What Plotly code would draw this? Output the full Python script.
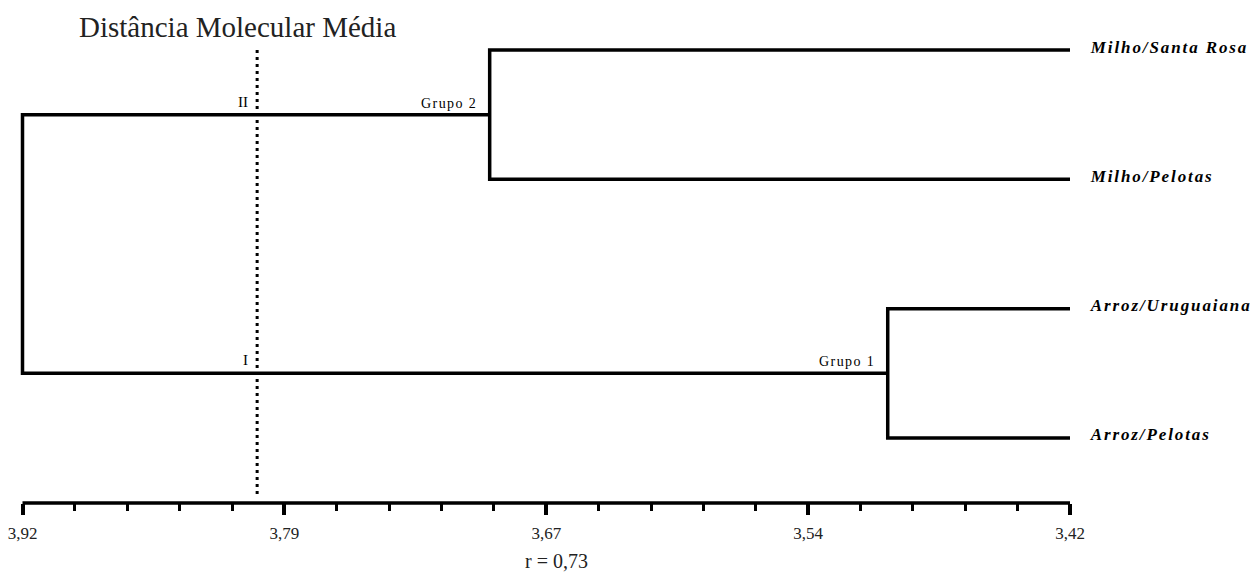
import json
import plotly.graph_objects as go

# ---- data ----
leaves = ["Milho/Santa Rosa", "Milho/Pelotas", "Arroz/Uruguaiana", "Arroz/Pelotas"]
leaf_end = 3.42
group_names = ["Grupo 2", "Grupo 1"]
group_members = [[0, 1], [2, 3]]
group_heights = [3.697, 3.507]
root_height = 3.92
root_labels = ["II", "I"]
cut_value = 3.808
tick_vals = [3.92, 3.795, 3.67, 3.545, 3.42]
tick_text = ["3,92", "3,79", "3,67", "3,54", "3,42"]
minor_vals = [3.92 - 0.025 * k for k in range(21) if k % 5 != 0]
axis_title = "r = 0,73"
title_text = "Distância Molecular Média"

# ---- layout geometry ----
W, H = 1252, 572
px_left, px_right = 22.5, 1070          # pixel positions of 3.92 and 3.42
upp = (tick_vals[0] - tick_vals[-1]) / (px_right - px_left)
x_range = [tick_vals[0] + px_left * upp, tick_vals[-1] - (W - px_right) * upp]
leaf_px0, leaf_step = 50, 129.33
y_range = [(H - leaf_px0) / leaf_step, -leaf_px0 / leaf_step]
axis_px = 503
axis_pos = 1 - axis_px / H

LINE = dict(color="black", width=3.5)
SERIF = "Liberation Serif, Times New Roman, serif"
LEAF_LS = 1.9     # letter spacing (px) of leaf labels
GROUP_LS = 1.4    # letter spacing (px) of group labels

fig = go.Figure()

# groups
group_mids = []
for name, mem, h in zip(group_names, group_members, group_heights):
    ya, yb = mem[0], mem[1]
    fig.add_trace(go.Scatter(
        x=[leaf_end, h, h, leaf_end], y=[ya, ya, yb, yb],
        mode="lines", line=LINE, hoverinfo="skip", showlegend=False))
    group_mids.append((ya + yb) / 2)

# root
fig.add_trace(go.Scatter(
    x=[group_heights[0], root_height, root_height, group_heights[1]],
    y=[group_mids[0], group_mids[0], group_mids[1], group_mids[1]],
    mode="lines", line=LINE, hoverinfo="skip", showlegend=False))

# cut line
fig.add_trace(go.Scatter(
    x=[cut_value, cut_value], y=[0, (495 - leaf_px0) / leaf_step],
    mode="lines", line=dict(color="black", width=3, dash="3px,4px"),
    hoverinfo="skip", showlegend=False))

# axis base line
fig.add_shape(type="line", xref="x", yref="paper",
              x0=tick_vals[0], x1=tick_vals[-1], y0=axis_pos, y1=axis_pos,
              line=dict(color="black", width=3.5))

ann = []
for i, name in enumerate(leaves):
    ann.append(dict(x=leaf_end, y=i, xref="x", yref="y", text="<b><i>%s</i></b>" % name,
                    xanchor="left", yanchor="middle",
                    xshift=18 + LEAF_LS * len(name) / 2, yshift=3, showarrow=False,
                    font=dict(family=SERIF, size=17, color="black")))
for name, h, m in zip(group_names, group_heights, group_mids):
    ann.append(dict(x=h, y=m, xref="x", yref="y", text=name, xanchor="right",
                    yanchor="bottom", xshift=-11 - GROUP_LS * len(name) / 2, yshift=2,
                    showarrow=False, font=dict(family=SERIF, size=14, color="black")))
for lab, m in zip(root_labels, group_mids):
    ann.append(dict(x=cut_value, y=m, xref="x", yref="y", text=lab, xanchor="right",
                    yanchor="bottom", xshift=-7, yshift=3, showarrow=False,
                    font=dict(family=SERIF, size=15, color="black")))
ann.append(dict(x=237.5 / W, y=1 - 27 / H, xref="paper", yref="paper", text=title_text,
                xanchor="center", yanchor="middle", showarrow=False,
                font=dict(family=SERIF, size=29, color="#222")))
ann.append(dict(x=556 / W, y=1 - 561 / H, xref="paper", yref="paper", text=axis_title,
                xanchor="center", yanchor="middle", showarrow=False,
                font=dict(family=SERIF, size=20, color="#222")))

fig.update_layout(
    width=W, height=H, margin=dict(l=0, r=0, t=0, b=0),
    paper_bgcolor="white", plot_bgcolor="white",
    annotations=ann, showlegend=False,
    xaxis=dict(domain=[0, 1], range=x_range, anchor="free", position=axis_pos,
               showline=False, showgrid=False, zeroline=False,
               tickmode="array", tickvals=tick_vals, ticktext=tick_text,
               ticks="outside", ticklen=11, tickwidth=3.5, tickcolor="black",
               tickfont=dict(family=SERIF, size=17, color="#222"),
               ticklabelstandoff=4,
               minor=dict(tickmode="array", tickvals=minor_vals, ticks="outside",
                          ticklen=7, tickwidth=3, tickcolor="black", showgrid=False)),
    yaxis=dict(domain=[0, 1], range=y_range, visible=False),
)

spacing = {name: LEAF_LS for name in leaves}
spacing.update({name: GROUP_LS for name in group_names})
post = (
    "document.body.style.margin='0px';document.body.style.overflow='hidden';"
    "var sp=%s;" % json.dumps(spacing) +
    "document.querySelectorAll('.annotation-text').forEach(function(t){"
    "var k=t.textContent;if(sp.hasOwnProperty(k)){t.style.letterSpacing=sp[k]+'px';}});"
)

fig.write_html("out.html", post_script=post, config={"displayModeBar": False})
